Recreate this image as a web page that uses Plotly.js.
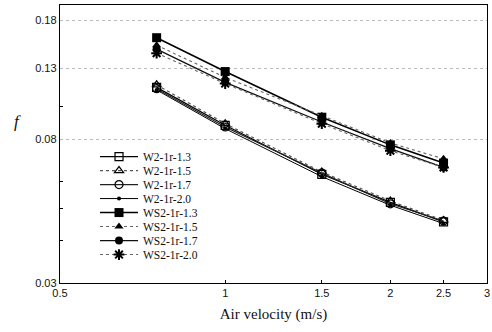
<!DOCTYPE html>
<html>
<head>
<meta charset="utf-8">
<script src="https://cdn.plot.ly/plotly-3.0.1.min.js"></script>
<style>html,body{margin:0;padding:0;background:#fff;}#chart{width:492px;height:332px;}</style>
</head>
<body>
<div id="chart"></div>
<script>
// Data
const airVelocity = [0.75, 1, 1.5, 2, 2.5];
const seriesNames = ["W2-1r-1.3", "W2-1r-1.5", "W2-1r-1.7", "W2-1r-2.0",
                     "WS2-1r-1.3", "WS2-1r-1.5", "WS2-1r-1.7", "WS2-1r-2.0"];
const w2_13  = [0.114, 0.088, 0.063, 0.052, 0.0455];
const w2_15  = [0.116, 0.089, 0.064, 0.0525, 0.046];
const w2_17  = [0.113, 0.087, 0.0635, 0.0515, 0.0458];
const w2_20  = [0.112, 0.086, 0.062, 0.051, 0.045];
const ws2_13 = [0.160, 0.127, 0.093, 0.077, 0.068];
const ws2_15 = [0.152, 0.122, 0.094, 0.078, 0.070];
const ws2_17 = [0.148, 0.118, 0.090, 0.075, 0.066];
const ws2_20 = [0.144, 0.117, 0.089, 0.074, 0.066];
const xTicks = [0.5, 1, 1.5, 2, 2.5, 3];
const xTickText = ["0.5", "1", "1.5", "2", "2.5", "3"];
const yTicks = [0.03, 0.08, 0.13, 0.18];
const yTickText = ["0.03", "0.08", "0.13", "0.18"];
const yMinorTicks = [0.04, 0.05, 0.06, 0.1];

const values = [w2_13, w2_15, w2_17, w2_20, ws2_13, ws2_15, ws2_17, ws2_20];
const styles = [
  {line:{color:'#000', width:1.3, dash:'solid'}, marker:{symbol:'square-open', size:8, color:'#000', line:{width:1.2}}},
  {line:{color:'#555', width:1.2, dash:'dot'}, marker:{symbol:'triangle-up-open', size:8, color:'#000', line:{width:1.2}}},
  {line:{color:'#222', width:1.2, dash:'solid'}, marker:{symbol:'circle-open', size:8, color:'#000', line:{width:1.2}}},
  {line:{color:'#000', width:1, dash:'solid'}, marker:{symbol:'circle', size:4, color:'#000'}},
  {line:{color:'#000', width:1.6, dash:'solid'}, marker:{symbol:'square', size:9, color:'#000'}},
  {line:{color:'#666', width:1.1, dash:'dot'}, marker:{symbol:'triangle-up', size:8, color:'#000'}},
  {line:{color:'#111', width:1.3, dash:'solid'}, marker:{symbol:'circle', size:8, color:'#000'}},
  {line:{color:'#666', width:1.1, dash:'dot'}, marker:{symbol:'asterisk-open', size:9, color:'#000', line:{width:2, color:'#000'}}}
];

const traces = values.map((v, i) => Object.assign({
  x: airVelocity, y: v, name: seriesNames[i], type: 'scatter', mode: 'lines+markers'
}, styles[i]));

const serif = "'Liberation Serif', 'Times New Roman', serif";
const sans = "'Liberation Sans', Arial, sans-serif";

const layout = {
  width: 492, height: 332,
  margin: {l: 60, r: 5, t: 5, b: 49},
  paper_bgcolor: '#fff', plot_bgcolor: '#fff',
  showlegend: true,
  legend: {x: 0.082, y: 0.507, xanchor: 'left', yanchor: 'top', bgcolor: 'rgba(0,0,0,0)',
           font: {family: serif, size: 11.5, color: '#111'}, tracegroupgap: 0, itemwidth: 38},
  xaxis: {
    type: 'log', range: [Math.log10(0.5), Math.log10(3)],
    tickmode: 'array', tickvals: xTicks, ticktext: xTickText,
    ticks: 'inside', ticklen: 3, tickcolor: '#000',
    showgrid: false, zeroline: false,
    showline: true, linecolor: '#000', linewidth: 1.2, mirror: true,
    tickfont: {family: sans, size: 11, color: '#111'},
    title: {text: 'Air velocity (m/s)', font: {family: serif, size: 15, color: '#111'}, standoff: 10}
  },
  yaxis: {
    type: 'log', range: [Math.log10(0.03), Math.log10(0.2)],
    tickmode: 'array', tickvals: yTicks, ticktext: yTickText,
    ticks: '', showgrid: true, gridcolor: '#bbb', griddash: 'dot', gridwidth: 1,
    zeroline: false,
    showline: true, linecolor: '#000', linewidth: 1.2, mirror: true,
    tickfont: {family: sans, size: 11, color: '#111'},
    minor: {tickmode: 'array', tickvals: yMinorTicks, ticks: 'inside', ticklen: 3, tickcolor: '#000', showgrid: false}
  },
  annotations: [{
    text: '<i>f</i>', xref: 'paper', yref: 'paper', x: -0.112, y: 0.58,
    showarrow: false, font: {family: serif, size: 17, color: '#111'}
  }]
};

Plotly.newPlot('chart', traces, layout, {displayModeBar: false, staticPlot: true}).then(function (gd) {
  // tighten the legend row spacing to match the reference (about 14 px per row)
  const items = gd.querySelectorAll('.legend .traces');
  let y0 = null;
  items.forEach(function (el, i) {
    const m = /translate\(\s*([-\d.]+)[ ,]+([-\d.]+)\s*\)/.exec(el.getAttribute('transform') || '');
    if (!m) return;
    if (y0 === null) y0 = parseFloat(m[2]);
    el.setAttribute('transform', 'translate(' + m[1] + ',' + (y0 + i * 14) + ')');
  });
});
</script>
</body>
</html>
